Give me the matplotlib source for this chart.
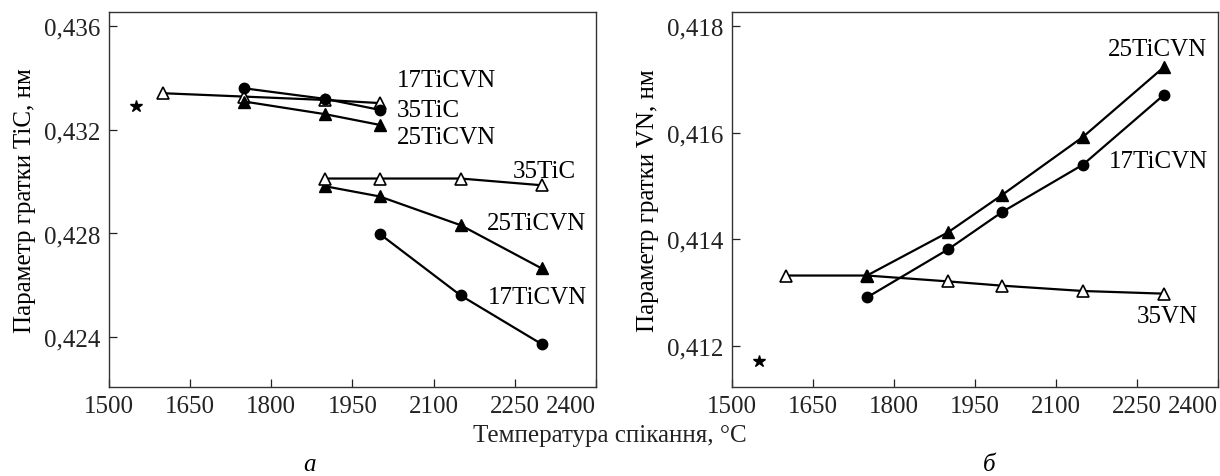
import matplotlib.pyplot as plt

plt.rcParams['font.family'] = ['Liberation Serif', 'DejaVu Serif']
plt.rcParams['font.size'] = 18

# --- panel a: TiC lattice parameter ---
t_a_35tic_hi = [1600, 1750, 1900, 2000]
a_35tic_hi = [0.43341, 0.43328, 0.43315, 0.43303]
t_a_17_hi = [1750, 1900, 2000]
a_17_hi = [0.43360, 0.43319, 0.43277]
t_a_25_hi = [1750, 1900, 2000]
a_25_hi = [0.43309, 0.43260, 0.43219]

t_a_35tic_lo = [1900, 2000, 2150, 2300]
a_35tic_lo = [0.43012, 0.43012, 0.43012, 0.42986]
t_a_25_lo = [1900, 2000, 2150, 2300]
a_25_lo = [0.42982, 0.42943, 0.42832, 0.42665]
t_a_17_lo = [2000, 2150, 2300]
a_17_lo = [0.42799, 0.42561, 0.42373]

t_ref_a = [1550]
a_ref = [0.43292]

# --- panel b: VN lattice parameter ---
t_b_25 = [1750, 1900, 2000, 2150, 2300]
b_25 = [0.41332, 0.41413, 0.41483, 0.41592, 0.41723]
t_b_17 = [1750, 1900, 2000, 2150, 2300]
b_17 = [0.41291, 0.41381, 0.41451, 0.41540, 0.41671]
t_b_35vn = [1600, 1750, 1900, 2000, 2150, 2300]
b_35vn = [0.41332, 0.41332, 0.41321, 0.41313, 0.41303, 0.41298]
t_ref_b = [1550]
b_ref = [0.41172]

x_ticks = [1500, 1650, 1800, 1950, 2100, 2250, 2400]
ya_ticks = [0.424, 0.428, 0.432, 0.436]
ya_labels = ['0,424', '0,428', '0,432', '0,436']
yb_ticks = [0.412, 0.414, 0.416, 0.418]
yb_labels = ['0,412', '0,414', '0,416', '0,418']

fig = plt.figure(figsize=(12.2, 4.77), dpi=100)
ax1 = fig.add_axes([0.0893, 0.1866, 0.3992, 0.786])
ax2 = fig.add_axes([0.6, 0.1866, 0.3984, 0.786])

open_tri = dict(color='black', lw=1.6, marker='^', ms=8.5, mfc='white', mec='black', mew=1.2)
full_tri = dict(color='black', lw=1.6, marker='^', ms=8.5, mfc='black', mec='black')
full_circ = dict(color='black', lw=1.6, marker='o', ms=7.5, mfc='black', mec='black')

ax1.plot(t_a_35tic_hi, a_35tic_hi, zorder=2, **open_tri)
ax1.plot(t_a_17_hi, a_17_hi, zorder=3, **full_circ)
ax1.plot(t_a_25_hi, a_25_hi, zorder=3, **full_tri)
ax1.plot(t_a_25_lo, a_25_lo, zorder=2, **full_tri)
ax1.plot(t_a_35tic_lo, a_35tic_lo, zorder=3, **open_tri)
ax1.plot(t_a_17_lo, a_17_lo, zorder=3, **full_circ)
ax1.plot(t_ref_a, a_ref, ls='none', marker='*', ms=9, color='black')

ax2.plot(t_b_35vn, b_35vn, zorder=2, **open_tri)
ax2.plot(t_b_17, b_17, zorder=3, **full_circ)
ax2.plot(t_b_25, b_25, zorder=3, **full_tri)
ax2.plot(t_ref_b, b_ref, ls='none', marker='*', ms=9, color='black')

ax1.set_ylim(0.42208, 0.43654)
ax2.set_ylim(0.41123, 0.41826)
ax1.set_yticks(ya_ticks)
ax1.set_yticklabels(ya_labels)
ax2.set_yticks(yb_ticks)
ax2.set_yticklabels(yb_labels)

for ax in (ax1, ax2):
    ax.set_xlim(1500, 2400)
    ax.set_xticks(x_ticks)
    ax.set_xticklabels([str(t) for t in x_ticks])
    ax.get_xticklabels()[-1].set_horizontalalignment('right')
    ax.tick_params(direction='in', length=6, width=0.9, pad=6, colors='#222222', labelcolor='#222222')
    for s in ax.spines.values():
        s.set_linewidth(1.0)
        s.set_color('#333333')

ax1.set_ylabel('Параметр гратки TiC, нм', labelpad=6)
ax2.set_ylabel('Параметр гратки VN, нм', labelpad=6)

# curve labels
ax1.text(2032, 0.43392, '17TiCVN', ha='left', va='center')
ax1.text(2032, 0.43277, '35TiC', ha='left', va='center')
ax1.text(2032, 0.43173, '25TiCVN', ha='left', va='center')
ax1.text(2247, 0.43042, '35TiC', ha='left', va='center')
ax1.text(2199, 0.42842, '25TiCVN', ha='left', va='center')
ax1.text(2200, 0.42554, '17TiCVN', ha='left', va='center')
ax2.text(2196, 0.41757, '25TiCVN', ha='left', va='center')
ax2.text(2198, 0.41547, '17TiCVN', ha='left', va='center')
ax2.text(2250, 0.41256, '35VN', ha='left', va='center')

fig.text(0.5, 0.085, 'Температура спікання, °C', ha='center', va='center', color='#222222')
fig.text(0.254, 0.025, 'а', ha='center', va='center', style='italic')
fig.text(0.811, 0.025, 'б', ha='center', va='center', style='italic')

fig.savefig('out.png', dpi=100)
